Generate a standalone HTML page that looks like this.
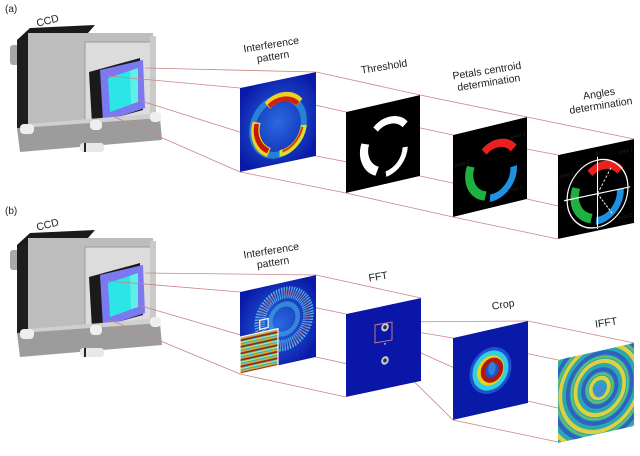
<!DOCTYPE html>
<html><head><meta charset="utf-8"><style>
html,body{margin:0;padding:0;background:#fff;}
svg{display:block;}
text{font-family:"Liberation Sans",sans-serif;fill:#222;}
</style></head><body>
<svg width="640" height="456" viewBox="0 0 640 456" xmlns="http://www.w3.org/2000/svg">
<defs>
<clipPath id="cp"><rect width="100" height="100"/></clipPath>
<radialGradient id="bg1" cx="50%" cy="50%" r="60%"><stop offset="0" stop-color="#2a6ae0"/><stop offset="1" stop-color="#0a1aa8"/></radialGradient>
<pattern id="stripes" width="10" height="8" patternUnits="userSpaceOnUse">
<rect width="10" height="8" fill="#2ab0c0"/><rect y="0" width="10" height="2" fill="#d8b030"/><rect y="2" width="10" height="2" fill="#a02010"/><rect y="5" width="10" height="1.5" fill="#e0e060"/>
</pattern>
<g id="cam">
 <rect x="10" y="45" width="9" height="20" rx="3" fill="#a8a8a8"/>
 <polygon points="17,40 30,28 95,25 88,33 28,40" fill="#1a1a1a"/>
 <rect x="17" y="40" width="11" height="88" fill="#1e1e1e"/>
 <rect x="28" y="33" width="125" height="95" fill="#bdbdbd"/>
 <rect x="85" y="42" width="70" height="86" fill="#dcdcdc" stroke="#9a9a9a"/>
 <rect x="150" y="36" width="6" height="92" fill="#cacaca"/>
 <polygon points="89,72 140,58 143,110 92,124" fill="#1a1a1a"/>
 <polygon points="100,70 143,60 145,108 103,122" fill="#7b78f0"/>
 <polygon points="108,78 138,68 138,102 110,112" fill="#2ce6e6"/>
 <polygon points="130,71 138,68 138,102 131,104" fill="#5ef0e8"/>
 <polygon points="17,128 160,118 162,140 20,152" fill="#9c9c9c"/>
 <polygon points="20,128 160,118 150,114 28,124" fill="#cfcfcf"/>
 <rect x="20" y="124" width="14" height="10" rx="4" fill="#eee"/>
 <rect x="90" y="120" width="12" height="10" rx="4" fill="#eee"/>
 <rect x="150" y="112" width="11" height="10" rx="4" fill="#eee"/>
 <rect x="80" y="143" width="24" height="9" rx="3" fill="#e8e8e8"/>
 <rect x="84" y="143" width="2" height="9" fill="#222"/>
</g>
</defs>

<text x="5" y="12" font-size="10">(a)</text>
<text x="5" y="214" font-size="10">(b)</text>
<text x="36" y="24" font-size="10.5" transform="rotate(-14 48 20)">CCD</text>
<text x="36" y="228" font-size="10.5" transform="rotate(-14 48 224)">CCD</text>
<g transform="rotate(-9 272 50)"><text x="272" y="48" font-size="10.5" text-anchor="middle">Interference</text><text x="272" y="60" font-size="10.5" text-anchor="middle">pattern</text></g>
<g transform="rotate(-9 272 256)"><text x="272" y="254" font-size="10.5" text-anchor="middle">Interference</text><text x="272" y="266" font-size="10.5" text-anchor="middle">pattern</text></g>
<text x="384" y="70" font-size="10.5" text-anchor="middle" transform="rotate(-9 384 66)">Threshold</text>
<g transform="rotate(-9 488 78)"><text x="488" y="74" font-size="10.5" text-anchor="middle">Petals centroid</text><text x="488" y="86" font-size="10.5" text-anchor="middle">determination</text></g>
<g transform="rotate(-9 600 100)"><text x="600" y="97" font-size="10.5" text-anchor="middle">Angles</text><text x="600" y="109" font-size="10.5" text-anchor="middle">determination</text></g>
<text x="378" y="280" font-size="10.5" text-anchor="middle" transform="rotate(-9 378 276)">FFT</text>
<text x="503" y="308" font-size="10.5" text-anchor="middle" transform="rotate(-9 503 304)">Crop</text>
<text x="606" y="326" font-size="10.5" text-anchor="middle" transform="rotate(-9 606 322)">IFFT</text>

<use href="#cam"/>
<use href="#cam" transform="translate(0,205)"/>

<g stroke="#c98585" stroke-width="0.8" fill="none">
<polyline points="145,68 316,72 420,95 527,117 634,139"/>
<polyline points="108,76 240,88 346,112 453,135 558,155"/>
<polyline points="138,100 316,156 420,176 527,199 634,223"/>
<polyline points="110,115 240,172 346,193 453,217 558,239"/>
<polyline points="145,273 316,275 421,298"/>
<polyline points="108,281 240,292 346,314"/>
<polyline points="138,305 316,357 421,380"/>
<polyline points="110,320 240,374 346,397"/>
<polyline points="375,325 453,338 558,360"/>
<polyline points="392,322 528,321 634,343"/>
<polyline points="392,340 528,401 634,426"/>
<polyline points="375,343 453,420 558,442"/>
</g>

<g transform="matrix(0.76,-0.16,0,0.84,240,88)"><g clip-path="url(#cp)">
<rect width="100" height="100" fill="url(#bg1)"/>
<circle cx="50" cy="55" r="34" fill="none" stroke="#30b0e0" stroke-width="8" opacity="0.6"/>
<path d="M36 28 A30 30 0 0 1 78 32" fill="none" stroke="#f0d020" stroke-width="11"/>
<path d="M38 29 A30 30 0 0 1 76 33" fill="none" stroke="#d02010" stroke-width="6"/>
<path d="M22 45 A32 32 0 0 0 38 84" fill="none" stroke="#f0d020" stroke-width="11"/>
<path d="M22 47 A32 32 0 0 0 37 82" fill="none" stroke="#c01808" stroke-width="6"/>
<path d="M52 88 A32 32 0 0 0 84 60" fill="none" stroke="#d8e030" stroke-width="8"/>
<path d="M56 86 A32 32 0 0 0 82 62" fill="none" stroke="#e04010" stroke-width="3"/>
</g></g>
<g transform="matrix(0.74,-0.17,0,0.81,346,112)"><g clip-path="url(#cp)">
<rect width="100" height="100" fill="#000"/>
<path d="M40 30 A28 28 0 0 1 80 32" fill="none" stroke="#fff" stroke-width="9"/>
<path d="M26 45 A30 30 0 0 0 42 82" fill="none" stroke="#fff" stroke-width="11"/>
<path d="M54 88 A30 30 0 0 0 80 60" fill="none" stroke="#fff" stroke-width="7"/>
</g></g>
<g transform="matrix(0.74,-0.18,0,0.82,453,135)"><g clip-path="url(#cp)">
<rect width="100" height="100" fill="#000"/>
<path d="M42 30 A28 28 0 0 1 82 34" fill="none" stroke="#e82020" stroke-width="10"/>
<path d="M24 44 A30 30 0 0 0 44 84" fill="none" stroke="#20b040" stroke-width="11"/>
<path d="M50 88 A30 30 0 0 0 82 56" fill="none" stroke="#2090e0" stroke-width="9"/>
<g fill="#fff" font-size="6.5"><text x="78" y="22">petal 1</text><text x="3" y="40">petal 2</text><text x="74" y="86">petal 3</text></g>
</g></g>
<g transform="matrix(0.76,-0.16,0,0.84,558,155)"><g clip-path="url(#cp)">
<rect width="100" height="100" fill="#000"/>
<path d="M42 30 A28 28 0 0 1 82 34" fill="none" stroke="#e82020" stroke-width="10"/>
<path d="M24 44 A30 30 0 0 0 44 84" fill="none" stroke="#20b040" stroke-width="11"/>
<path d="M50 88 A30 30 0 0 0 82 56" fill="none" stroke="#2090e0" stroke-width="9"/>
<circle cx="52" cy="56" r="40" fill="none" stroke="#fff" stroke-width="1.6"/>
<line x1="52" y1="12" x2="52" y2="98" stroke="#fff" stroke-width="1.4"/>
<line x1="8" y1="56" x2="95" y2="56" stroke="#fff" stroke-width="1.4"/>
<line x1="52" y1="56" x2="70" y2="28" stroke="#fff" stroke-width="1.2" stroke-dasharray="3 2"/>
<line x1="52" y1="56" x2="72" y2="84" stroke="#fff" stroke-width="1.2" stroke-dasharray="3 2"/>
<g fill="#fff" font-size="6"><text x="80" y="14">petal 1</text><text x="2" y="28">petal 2</text><text x="80" y="92">petal 3</text><text x="48" y="10">90</text><text x="48" y="100">270</text></g>
</g></g>
<g transform="matrix(0.76,-0.17,0,0.82,240,292)"><g clip-path="url(#cp)">
<rect width="100" height="100" fill="url(#bg1)"/>
<circle cx="58" cy="45" r="32" fill="none" stroke="#50b8e8" stroke-width="14" stroke-dasharray="1.5 1.5"/>
<circle cx="58" cy="45" r="32" fill="none" stroke="#c05060" stroke-width="6" stroke-dasharray="1 2" opacity="0.8"/>
<circle cx="58" cy="45" r="18" fill="none" stroke="#40a0e0" stroke-width="6" opacity="0.7"/>
<rect x="26" y="40" width="11" height="11" fill="none" stroke="#fff" stroke-width="1.5"/>
<rect x="0" y="55" width="50" height="45" fill="url(#stripes)" stroke="#fff" stroke-width="1.5"/>
</g></g>
<g transform="matrix(0.75,-0.16,0,0.83,346,314)"><g clip-path="url(#cp)">
<rect width="100" height="100" fill="#0a16a8"/>
<circle cx="52" cy="26" r="5" fill="#ccd" /><circle cx="52" cy="26" r="2.5" fill="#2a3a30"/>
<circle cx="52" cy="66" r="5" fill="#ccd"/><circle cx="52" cy="66" r="2.5" fill="#2a3a30"/>
<circle cx="52" cy="46" r="1.2" fill="#aaf"/>
</g></g>
<polygon points="375,325 392,322 392,340 375,343" fill="none" stroke="#d08080" stroke-width="0.9"/>
<g transform="matrix(0.75,-0.17,0,0.82,453,338)"><g clip-path="url(#cp)">
<rect width="100" height="100" fill="#0a1aa8"/>
<circle cx="50" cy="50" r="28" fill="#2060d8" opacity="0.8"/>
<circle cx="50" cy="50" r="20" fill="none" stroke="#30d0e0" stroke-width="8"/>
<circle cx="50" cy="50" r="15" fill="none" stroke="#e8d020" stroke-width="6"/>
<circle cx="52" cy="50" r="12" fill="none" stroke="#b01808" stroke-width="6"/>
<ellipse cx="52" cy="48" rx="5" ry="8" fill="#3080e0"/>
</g></g>
<g transform="matrix(0.76,-0.17,0,0.83,558,360)"><g clip-path="url(#cp)">
<rect width="100" height="100" fill="#2aa8b0"/>
<g fill="none" stroke-width="5">
<circle cx="55" cy="45" r="12" stroke="#e0d040"/>
<circle cx="55" cy="45" r="22" stroke="#3060c0"/>
<circle cx="55" cy="45" r="32" stroke="#e0d040"/>
<circle cx="55" cy="45" r="42" stroke="#3060c0"/>
<circle cx="55" cy="45" r="52" stroke="#e0d040"/>
<circle cx="55" cy="45" r="62" stroke="#3060c0"/>
<circle cx="55" cy="45" r="72" stroke="#e0d040"/>
</g>
<g fill="none" stroke-width="2" stroke="#70c060"><circle cx="55" cy="45" r="17"/><circle cx="55" cy="45" r="37"/><circle cx="55" cy="45" r="57"/></g>
<circle cx="55" cy="48" r="8" fill="#4090d0"/>
</g></g>
</svg>
</body></html>
